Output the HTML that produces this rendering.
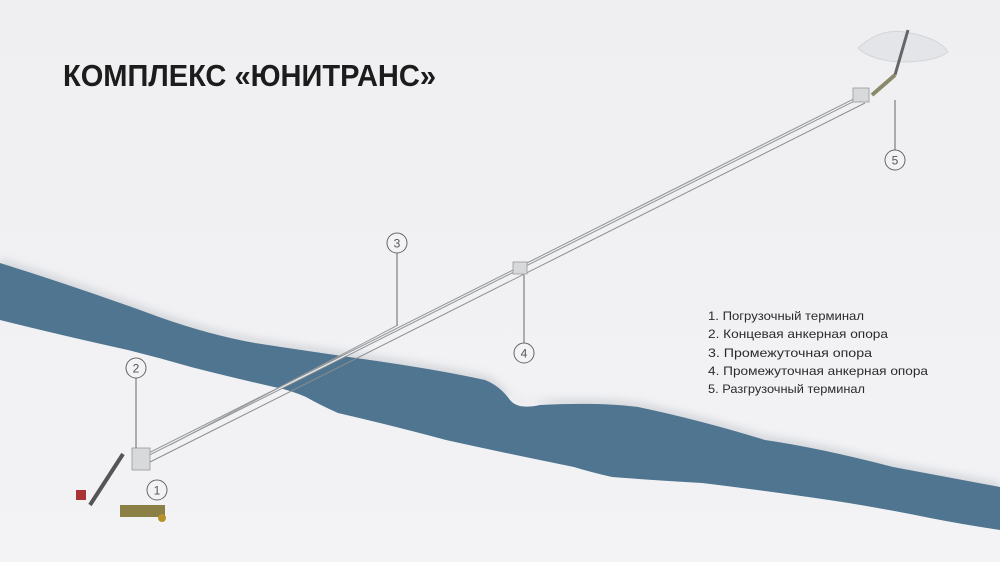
<!DOCTYPE html>
<html><head><meta charset="utf-8"><style>
html,body{margin:0;padding:0;background:#efeff2;}
svg{display:block}
</style></head><body>
<svg width="1000" height="562" viewBox="0 0 1000 562" xmlns="http://www.w3.org/2000/svg">
<defs>
<linearGradient id="bg" x1="0" y1="0" x2="0" y2="1"><stop offset="0" stop-color="#efeff2"/><stop offset="1" stop-color="#f3f3f5"/></linearGradient>
<filter id="bl"><feGaussianBlur stdDeviation="4"/></filter>
</defs>
<rect width="1000" height="562" fill="url(#bg)"/>
<path d="M0,263 Q80,288 159,317 Q210,335 255,343 Q300,350 370,360 Q440,370 485,380 Q500,386 510,400 Q518,410 540,405 Q600,402 638,407 Q700,420 765,440 Q820,448 893,467 L1000,487 L1000,500 L0,300Z" fill="#c9cdd3" filter="url(#bl)" opacity="0.7" transform="translate(0,-5)"/>
<path d="M0,263 Q80,288 159,317 Q210,335 255,343 Q300,350 370,360 Q440,370 485,380 Q500,386 510,400 Q518,410 540,405 Q600,402 638,407 Q700,420 765,440 Q820,448 893,467 L1000,487 L1000,530 Q960,524 925,517 Q870,506 829,500 Q760,490 702,483 Q650,480 612,477 Q590,472 574,467 Q500,452 446,440 Q390,425 338,413 Q320,405 306,397 Q290,390 274,387 Q230,377 191,367 Q160,358 128,350 Q60,335 0,320Z" fill="#4f7590"/>
<g fill="none">
<line x1="145" y1="456" x2="860" y2="97" stroke="#8a8d90" stroke-width="3.2"/>
<line x1="145" y1="456" x2="860" y2="97" stroke="#e8e9eb" stroke-width="1.4"/>
<line x1="150" y1="462" x2="865" y2="103" stroke="#8a8d90" stroke-width="1"/>
<line x1="170" y1="445" x2="398" y2="325" stroke="#9a9da0" stroke-width="1"/>
</g>
<rect x="513" y="262" width="14" height="12" fill="#d8d9db" stroke="#999" stroke-width="0.8"/>
<rect x="853" y="88" width="16" height="14" fill="#d8d9db" stroke="#999" stroke-width="0.8"/>
<rect x="132" y="448" width="18" height="22" fill="#d8d9db" stroke="#999" stroke-width="0.8"/>
<line x1="123" y1="454" x2="90" y2="505" stroke="#555" stroke-width="4"/>
<rect x="76" y="490" width="10" height="10" fill="#a33" />
<rect x="120" y="505" width="45" height="12" fill="#8a7f45"/>
<circle cx="162" cy="518" r="4" fill="#b9912a"/>
<path d="M858,48 Q880,28 905,32 Q940,38 948,52 Q935,62 900,62 Q870,60 858,48Z" fill="#e4e5e8" stroke="#d3d4d8"/>
<line x1="908" y1="30" x2="895" y2="75" stroke="#666" stroke-width="3"/>
<line x1="895" y1="75" x2="872" y2="95" stroke="#8a8a6a" stroke-width="4"/>
<g stroke="#666" stroke-width="1" fill="#f3f3f5">
<line x1="397" y1="253" x2="397" y2="325"/>
<line x1="524" y1="343" x2="524" y2="275"/>
<line x1="136" y1="378" x2="136" y2="448"/>
<line x1="895" y1="150" x2="895" y2="100"/>
<circle cx="397" cy="243" r="10"/>
<circle cx="524" cy="353" r="10"/>
<circle cx="136" cy="368" r="10"/>
<circle cx="157" cy="490" r="10"/>
<circle cx="895" cy="160" r="10"/>
</g>
<g font-family="Liberation Sans, sans-serif" font-size="12" fill="#555" text-anchor="middle">
<text x="397" y="247.5">3</text><text x="524" y="357.5">4</text><text x="136" y="372.5">2</text><text x="157" y="494.5">1</text><text x="895" y="164.5">5</text>
</g>
<text x="63" y="86" font-family="Liberation Sans, sans-serif" font-weight="bold" font-size="31" fill="#1c1c1c" textLength="373" lengthAdjust="spacingAndGlyphs">КОМПЛЕКС «ЮНИТРАНС»</text>
<g font-family="Liberation Sans, sans-serif" font-size="12" fill="#2a2a2a">
<text x="708" y="320" textLength="156" lengthAdjust="spacingAndGlyphs">1.  Погрузочный терминал</text>
<text x="708" y="338" textLength="180" lengthAdjust="spacingAndGlyphs">2.  Концевая анкерная опора</text>
<text x="708" y="357" textLength="164" lengthAdjust="spacingAndGlyphs">3.  Промежуточная опора</text>
<text x="708" y="375" textLength="220" lengthAdjust="spacingAndGlyphs">4.  Промежуточная анкерная опора</text>
<text x="708" y="393" textLength="157" lengthAdjust="spacingAndGlyphs">5.  Разгрузочный терминал</text>
</g>
</svg>
</body></html>
